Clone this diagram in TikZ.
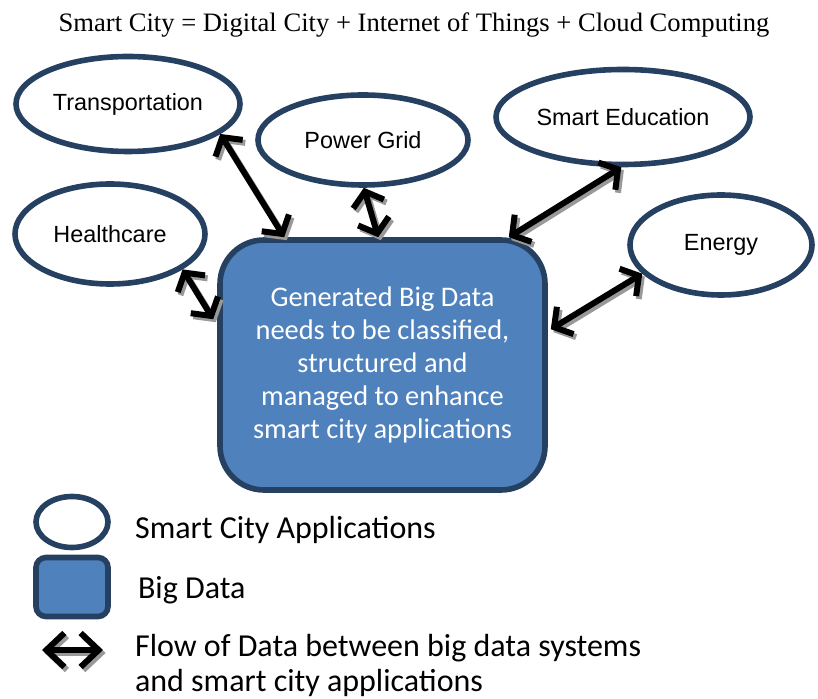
\documentclass[tikz,border=0pt]{standalone}
\usepackage{fontspec}
\setmainfont{Liberation Serif}
\newfontfamily\arialfont{Liberation Sans}
\newfontfamily\calibrifont{Carlito}
\usetikzlibrary{shapes.geometric,arrows.meta,calc}
\definecolor{bdfill}{RGB}{79,129,189}
\definecolor{bdline}{RGB}{37,64,97}
\begin{document}
\begin{tikzpicture}[x=0.5pt,y=-0.5pt,
    app/.style={ellipse,draw=bdline,line width=2.8pt,fill=white,inner sep=0pt,font=\arialfont\fontsize{11.7}{13}\selectfont},
    store/.style={rectangle,draw=bdline,line width=2.8pt,fill=bdfill,inner sep=0pt},
    flow/.style={line width=3pt,{Straight Barb[length=6.5pt,width=16pt]}-{Straight Barb[length=6.5pt,width=16pt]}},
    flowshadow/.style={flow,draw=black!40,transform canvas={shift={(1.3pt,-1.5pt)}}},
    legend/.style={anchor=west,font=\calibrifont\fontsize{16}{17.5}\selectfont,align=left}]
    \useasboundingbox (0,0) rectangle (818,699);
    \node (title) at (414,25) {\fontsize{13.3}{15}\selectfont Smart City = Digital City + Internet of Things + Cloud Computing};
    % applications round the data store
    \node[app,minimum width=112pt,minimum height=47.5pt] (trans) at (128,104) {Transportation};
    \node[app,minimum width=105pt,minimum height=45pt] (grid) at (363,140) {Power Grid};
    \node[app,minimum width=127pt,minimum height=47.5pt] (edu) at (623,117) {Smart Education};
    \node[app,minimum width=95pt,minimum height=50pt] (health) at (110,234) {Healthcare};
    \node[app,minimum width=91pt,minimum height=50pt] (energy) at (721,245) {Energy};
    \node[store,rounded corners=22pt,minimum width=162.5pt,minimum height=125pt,text=white,align=center,
        font=\calibrifont\fontsize{14.2}{16.5}\selectfont] (bigdata) at (382.5,365)
        {Generated Big Data\\needs to be classified,\\structured and\\managed to enhance\\smart city applications};
    \coordinate (tIn) at ($(bigdata.north west)+(67,0)$);
    \coordinate (gIn) at ($(bigdata.north west)+(161,0)$);
    \coordinate (eIn) at ($(bigdata.north east)+(-39,0)$);
    \coordinate (hIn) at ($(bigdata.north west)+(-4,82)$);
    \coordinate (nIn) at ($(bigdata.north east)+(3,92)$);
    \foreach \from/\to in {trans.-18/tIn,grid.-89/gIn,edu.-92/eIn,health.-26/hIn,energy.200/nIn}{
        \draw[flowshadow] (\from) -- (\to);
        \draw[flow] (\from) -- (\to);
    }
    % legend
    \node[app,minimum width=36pt,minimum height=25.5pt] (lapp) at (72,522) {};
    \node[store,rounded corners=5pt,minimum width=36pt,minimum height=29.5pt] (lstore) at (72,587) {};
    \coordinate (la) at (42,650);
    \coordinate (lb) at (103,650);
    \draw[flowshadow,{Straight Barb[length=9pt,width=17pt]}-{Straight Barb[length=9pt,width=17pt]}] (la) -- (lb);
    \draw[flow,{Straight Barb[length=9pt,width=17pt]}-{Straight Barb[length=9pt,width=17pt]}] (la) -- (lb);
    \node[legend] (tapp) at (128,530) {Smart City Applications};
    \node[legend] (tstore) at (131,590) {Big Data};
    \node[legend] (tflow) at (128,665) {Flow of Data between big data systems\\and smart city applications};
\end{tikzpicture}
\end{document}
